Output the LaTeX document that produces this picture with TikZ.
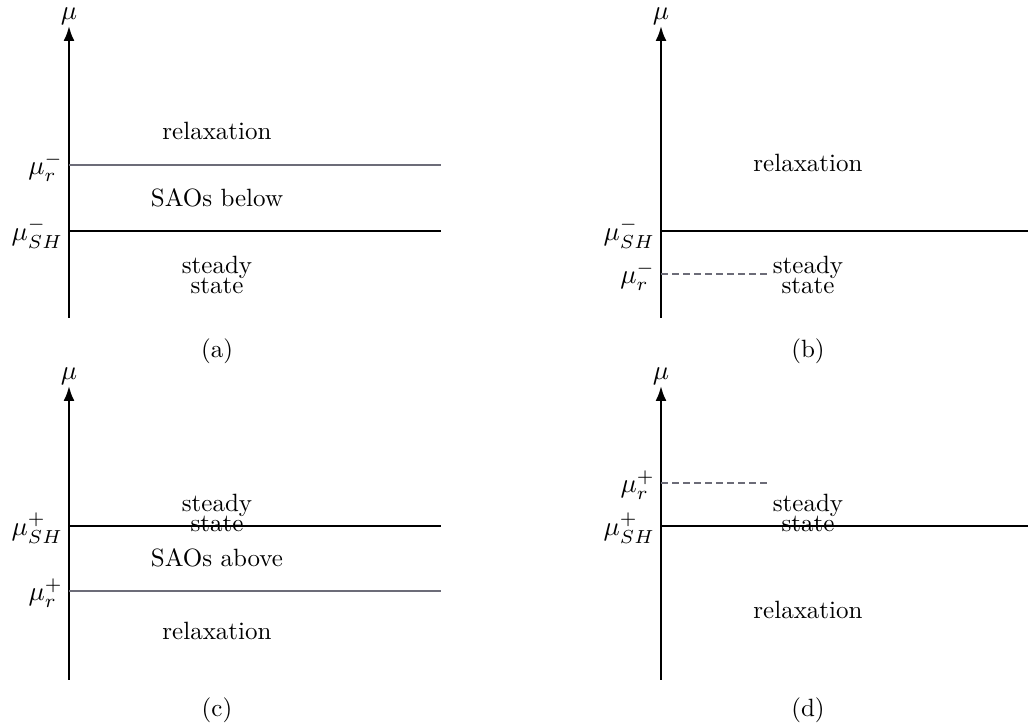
\documentclass[tikz,border=0pt]{standalone}
\usetikzlibrary{arrows.meta}
\definecolor{lgrey}{RGB}{108,108,120}
\begin{document}
\begin{tikzpicture}[x=0.4pt,y=-0.4pt,
  axis/.style={line width=0.9pt,-{Latex[length=6pt,width=4.4pt]}},
  blk/.style={line width=0.9pt,black},
  gry/.style={line width=0.9pt,color=lgrey},
  dsh/.style={line width=0.9pt,color=lgrey,dash pattern=on 2.8pt off 1.6pt},
  lab/.style={anchor=east,inner sep=1pt,scale=1.08},
  txt/.style={align=center,inner sep=0pt}]
\useasboundingbox (0,0) rectangle (1028,725);
% ---------- (a)
\coordinate (a0) at (69,318);
\coordinate (a1) at (69,26);
\draw[axis] (a0) -- (a1);
\node[scale=1.08] (amu) at (69,16) {$\mu$};
\coordinate (ar1) at (69,165); \coordinate (ar2) at (441,165);
\coordinate (as1) at (69,231); \coordinate (as2) at (441,231);
\draw[gry] (ar1) -- (ar2);
\draw[blk] (as1) -- (as2);
\node[lab] (alr) at (66,167) {$\mu_r^-$};
\node[lab] (als) at (66,233) {$\mu_{SH}^-$};
\node[txt] (at1) at (217,131) {relaxation};
\node[txt] (at2) at (217,198) {SAOs below};
\node[txt] (at3) at (217,275) {steady\\[-4pt]state};
\node (acap) at (217,351) {(a)};
% ---------- (b)
\coordinate (b0) at (661,318);
\coordinate (b1) at (661,26);
\draw[axis] (b0) -- (b1);
\node[scale=1.08] (bmu) at (661,16) {$\mu$};
\coordinate (bs1) at (661,231); \coordinate (bs2) at (1028,231);
\coordinate (br1) at (661,274); \coordinate (br2) at (768,274);
\draw[blk] (bs1) -- (bs2);
\draw[dsh] (br1) -- (br2);
\node[lab] (bls) at (658,233) {$\mu_{SH}^-$};
\node[lab] (blr) at (658,276) {$\mu_r^-$};
\node[txt] (bt1) at (808,163) {relaxation};
\node[txt] (bt2) at (808,275) {steady\\[-4pt]state};
\node (bcap) at (808,351) {(b)};
% ---------- (c)
\coordinate (c0) at (69,680);
\coordinate (c1) at (69,386);
\draw[axis] (c0) -- (c1);
\node[scale=1.08] (cmu) at (69,376) {$\mu$};
\coordinate (cs1) at (69,526); \coordinate (cs2) at (441,526);
\coordinate (cr1) at (69,591); \coordinate (cr2) at (441,591);
\draw[blk] (cs1) -- (cs2);
\draw[gry] (cr1) -- (cr2);
\node[lab] (cls) at (66,528) {$\mu_{SH}^+$};
\node[lab] (clr) at (66,593) {$\mu_r^+$};
\node[txt] (ct1) at (217,513) {steady\\[-4pt]state};
\node[txt] (ct2) at (217,558) {SAOs above};
\node[txt] (ct3) at (217,631) {relaxation};
\node (ccap) at (217,710) {(c)};
% ---------- (d)
\coordinate (d0) at (661,680);
\coordinate (d1) at (661,386);
\draw[axis] (d0) -- (d1);
\node[scale=1.08] (dmu) at (661,376) {$\mu$};
\coordinate (dr1) at (661,483); \coordinate (dr2) at (768,483);
\coordinate (ds1) at (661,526); \coordinate (ds2) at (1028,526);
\draw[dsh] (dr1) -- (dr2);
\draw[blk] (ds1) -- (ds2);
\node[lab] (dlr) at (658,485) {$\mu_r^+$};
\node[lab] (dls) at (658,528) {$\mu_{SH}^+$};
\node[txt] (dt1) at (808,513) {steady\\[-4pt]state};
\node[txt] (dt2) at (808,610) {relaxation};
\node (dcap) at (808,710) {(d)};
\end{tikzpicture}
\end{document}
